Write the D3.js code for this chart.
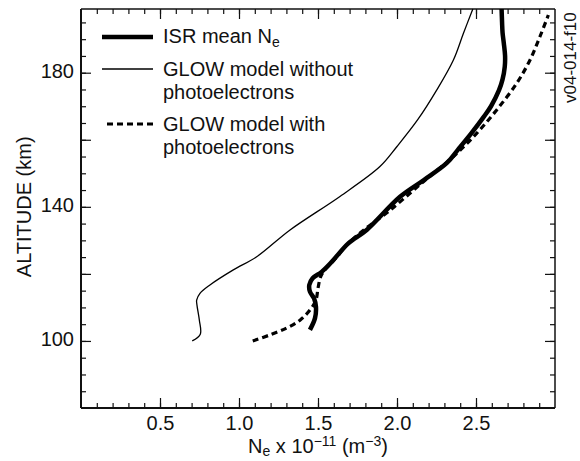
<!DOCTYPE html>
<html>
<head>
<meta charset="utf-8">
<script src="https://cdn.jsdelivr.net/npm/d3@7"></script>
<style>
  body { margin: 0; background: #fff; }
  text { font-family: "Liberation Sans", Arial, Helvetica, sans-serif; fill: #111; }
</style>
</head>
<body>
<div id="container"></div>
<script>
const WIDTH = 580;
const HEIGHT = 461;
const MARGIN = { TOP: 9, BOTTOM: 53, LEFT: 81, RIGHT: 25 };

const width = WIDTH - MARGIN.LEFT - MARGIN.RIGHT;
const height = HEIGHT - MARGIN.TOP - MARGIN.BOTTOM;

// ISR mean Ne
const isrAlt = [103.3, 106.8, 110.2, 112.7, 114.7, 116.7, 118.7, 120.6, 123.6, 129.1, 133.1,
                143.0, 148, 153, 157, 161.9, 166.9, 170, 174.7, 178, 181.8, 185, 188.8, 192, 195, 199];
const isrNe  = [1.449, 1.481, 1.487, 1.475, 1.449, 1.445, 1.466, 1.523, 1.587, 1.692, 1.808,
                2.019, 2.17, 2.314, 2.385, 2.47, 2.55, 2.595, 2.645, 2.668, 2.682, 2.684, 2.676, 2.668, 2.665, 2.662];

// GLOW model without photoelectrons
const noPeAlt = [100, 102, 106.2, 110.7, 112.2, 114.2, 116.7, 121.2, 125.1, 133.1, 143.1,
                 152, 158, 165.9, 174.8, 183.8, 191.7, 199];
const noPeNe  = [0.704, 0.755, 0.749, 0.734, 0.732, 0.753, 0.816, 0.964, 1.112, 1.323, 1.639,
                 1.892, 2.0, 2.13, 2.251, 2.357, 2.42, 2.48];

// GLOW model with photoelectrons
const withPeAlt = [100, 101.8, 103.9, 106.2, 109.2, 112.2, 115.7, 119.2, 121, 124, 129, 133.1,
                   139, 147.5, 155, 161.9, 168.9, 176.8, 183.8, 190.8, 197.2];
const withPeNe  = [1.087, 1.196, 1.304, 1.386, 1.449, 1.487, 1.50, 1.517, 1.54, 1.6, 1.69, 1.79,
                   1.956, 2.167, 2.357, 2.504, 2.631, 2.757, 2.842, 2.905, 2.958];

const xMajorTicks = [0.5, 1.0, 1.5, 2.0, 2.5];
const xMinorTicks = d3.range(1, 30).map(d => d / 10);
const yMajorTicks = [100, 120, 140, 160, 180];
const yTickLabels = [100, 140, 180];
const yMinorTicks = d3.range(85, 200, 5);

const svg = d3.select('#container')
              .append('svg')
                .attr('width', WIDTH)
                .attr('height', HEIGHT);

const container = svg.append('g')
                     .attr('transform', `translate(${MARGIN.LEFT}, ${MARGIN.TOP})`);

const xscale = d3.scaleLinear().domain([0, 3]).range([0, width]);
const yscale = d3.scaleLinear().domain([80, 199]).range([height, 0]);

const styleAxis = g => {
    g.select('.domain').remove();
    g.selectAll('line').attr('stroke', '#111').attr('stroke-width', 1.2);
    g.selectAll('text').style('font-size', '20px').attr('fill', '#111');
};

// bottom
container.append('g')
           .attr('transform', `translate(0, ${height})`)
           .call(d3.axisBottom(xscale).tickValues(xMinorTicks).tickSize(-5).tickFormat(''))
           .call(styleAxis);
container.append('g')
           .attr('transform', `translate(0, ${height})`)
           .call(d3.axisBottom(xscale).tickValues(xMajorTicks).tickSize(-10)
                   .tickPadding(8).tickFormat(d3.format('.1f')))
           .call(styleAxis);

// top
container.append('g')
           .call(d3.axisTop(xscale).tickValues(xMinorTicks).tickSize(-5).tickFormat(''))
           .call(styleAxis);
container.append('g')
           .call(d3.axisTop(xscale).tickValues(xMajorTicks).tickSize(-10).tickFormat(''))
           .call(styleAxis);

// left
container.append('g')
           .call(d3.axisLeft(yscale).tickValues(yMinorTicks).tickSize(-5).tickFormat(''))
           .call(styleAxis);
container.append('g')
           .call(d3.axisLeft(yscale).tickValues(yMajorTicks).tickSize(-10).tickPadding(7)
                   .tickFormat(d => yTickLabels.includes(d) ? d : ''))
           .call(styleAxis)
           .selectAll('text').attr('dy', '0.25em');

// right
container.append('g')
           .attr('transform', `translate(${width}, 0)`)
           .call(d3.axisRight(yscale).tickValues(yMinorTicks).tickSize(-5).tickFormat(''))
           .call(styleAxis);
container.append('g')
           .attr('transform', `translate(${width}, 0)`)
           .call(d3.axisRight(yscale).tickValues(yMajorTicks).tickSize(-10).tickFormat(''))
           .call(styleAxis);

// frame
container.append('line').attr('x1', 0).attr('x2', 0).attr('y1', 0).attr('y2', height)
           .attr('stroke', '#111').attr('stroke-width', 2);
container.append('line').attr('x1', 0).attr('x2', width).attr('y1', height).attr('y2', height)
           .attr('stroke', '#111').attr('stroke-width', 2);
container.append('line').attr('x1', 0).attr('x2', width).attr('y1', 0).attr('y2', 0)
           .attr('stroke', '#111').attr('stroke-width', 1.5);
container.append('line').attr('x1', width).attr('x2', width).attr('y1', 0).attr('y2', height)
           .attr('stroke', '#111').attr('stroke-width', 1.5);

const line = d3.line()
               .x(d => xscale(d[0]))
               .y(d => yscale(d[1]))
               .curve(d3.curveCatmullRom.alpha(0.5));

const series = [
    { ne: noPeNe, alt: noPeAlt, width: 1.3, dash: null },
    { ne: withPeNe, alt: withPeAlt, width: 3.2, dash: '6,4' },
    { ne: isrNe, alt: isrAlt, width: 4.5, dash: null }
];

container.selectAll('path.profile')
         .data(series)
         .enter()
         .append('path')
           .attr('class', 'profile')
           .attr('d', s => line(d3.zip(s.ne, s.alt)))
           .attr('fill', 'none')
           .attr('stroke', '#000')
           .attr('stroke-width', s => s.width)
           .attr('stroke-dasharray', s => s.dash);

// legend
const legend = svg.append('g');
legend.append('line').attr('x1', 102).attr('x2', 153).attr('y1', 37).attr('y2', 37)
      .attr('stroke', '#000').attr('stroke-width', 4.5);
legend.append('line').attr('x1', 102).attr('x2', 153).attr('y1', 69).attr('y2', 69)
      .attr('stroke', '#000').attr('stroke-width', 1.3);
legend.append('line').attr('x1', 107).attr('x2', 153).attr('y1', 124).attr('y2', 124)
      .attr('stroke', '#000').attr('stroke-width', 3.2).attr('stroke-dasharray', '6,4');

const t1 = legend.append('text').attr('x', 163).attr('y', 43).style('font-size', '20px');
t1.append('tspan').text('ISR mean N');
t1.append('tspan').attr('baseline-shift', '-4').style('font-size', '14px').text('e');

legend.append('text').attr('x', 163).attr('y', 76).style('font-size', '20px').text('GLOW model without');
legend.append('text').attr('x', 163).attr('y', 99).style('font-size', '20px').text('photoelectrons');
legend.append('text').attr('x', 163).attr('y', 131).style('font-size', '20px').text('GLOW model with');
legend.append('text').attr('x', 163).attr('y', 154).style('font-size', '20px').text('photoelectrons');

// axis titles
svg.append('text')
   .attr('transform', `translate(31, ${MARGIN.TOP + yscale(140)}) rotate(-90)`)
   .attr('text-anchor', 'middle')
   .style('font-size', '20px')
   .text('ALTITUDE (km)');

const xt = svg.append('text')
              .attr('x', MARGIN.LEFT + width / 2)
              .attr('y', 453)
              .attr('text-anchor', 'middle')
              .style('font-size', '20px');
xt.append('tspan').text('N');
xt.append('tspan').attr('baseline-shift', '-3').style('font-size', '14px').text('e');
xt.append('tspan').text(' x 10');
xt.append('tspan').attr('baseline-shift', '7').style('font-size', '14px').text('\u221211');
xt.append('tspan').text(' (m');
xt.append('tspan').attr('baseline-shift', '7').style('font-size', '14px').text('\u22123');
xt.append('tspan').text(')');

svg.append('text')
   .attr('transform', 'translate(576, 103) rotate(-90)')
   .style('font-size', '17px')
   .attr('fill', '#333')
   .text('v04-014-f10');
</script>
</body>
</html>
